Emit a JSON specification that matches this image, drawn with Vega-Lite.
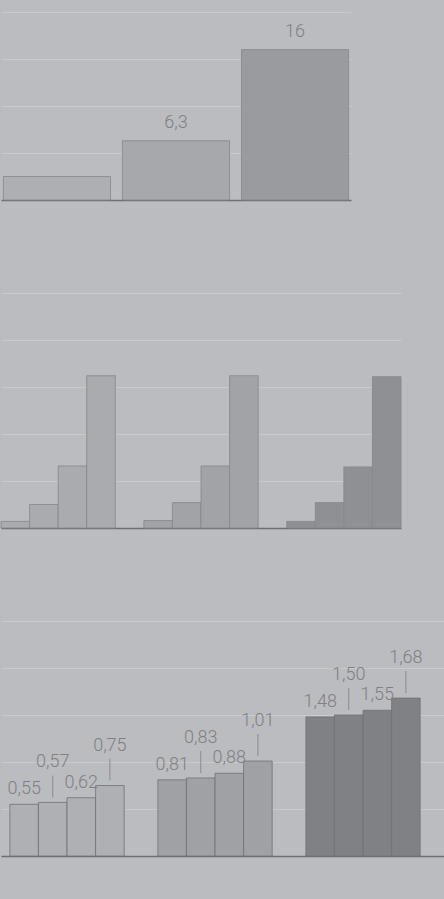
{
  "$schema": "https://vega.github.io/schema/vega-lite/v6.json",
  "background": "#bbbcbf",
  "padding": {"top": 12, "left": 0, "right": 0, "bottom": 45},
  "spacing": 92,
  "resolve": {"scale": {"color": "independent"}},
  "config": {
    "view": {"stroke": null},
    "axisX": {"labels": false, "ticks": false, "grid": false, "domain": true, "domainColor": "#6d6e72", "domainWidth": 1.5, "minExtent": 0, "maxExtent": 0, "title": null},
    "axisY": {"labels": false, "ticks": false, "domain": false, "grid": true, "gridColor": "#d2d3d6", "gridOpacity": 0.6, "gridWidth": 1, "minExtent": 0, "maxExtent": 0, "title": null, "zindex": 1}
  },
  "datasets": {
    "top": [
      {"item": "A", "value": 2.5, "label": ""},
      {"item": "B", "value": 6.3, "label": "6,3"},
      {"item": "C", "value": 16, "label": "16"}
    ],
    "middle": [
      {"group": "G1", "bar": 1, "value": 0.7},
      {"group": "G1", "bar": 2, "value": 2.5},
      {"group": "G1", "bar": 3, "value": 6.6},
      {"group": "G1", "bar": 4, "value": 16.2},
      {"group": "G2", "bar": 1, "value": 0.8},
      {"group": "G2", "bar": 2, "value": 2.7},
      {"group": "G2", "bar": 3, "value": 6.6},
      {"group": "G2", "bar": 4, "value": 16.2},
      {"group": "G3", "bar": 1, "value": 0.7},
      {"group": "G3", "bar": 2, "value": 2.7},
      {"group": "G3", "bar": 3, "value": 6.5},
      {"group": "G3", "bar": 4, "value": 16.1}
    ],
    "bottom": [
      {"group": "G1", "bar": 1, "value": 0.55, "label": "0,55"},
      {"group": "G1", "bar": 2, "value": 0.57, "label": "0,57"},
      {"group": "G1", "bar": 3, "value": 0.62, "label": "0,62"},
      {"group": "G1", "bar": 4, "value": 0.75, "label": "0,75"},
      {"group": "G2", "bar": 1, "value": 0.81, "label": "0,81"},
      {"group": "G2", "bar": 2, "value": 0.83, "label": "0,83"},
      {"group": "G2", "bar": 3, "value": 0.88, "label": "0,88"},
      {"group": "G2", "bar": 4, "value": 1.01, "label": "1,01"},
      {"group": "G3", "bar": 1, "value": 1.48, "label": "1,48"},
      {"group": "G3", "bar": 2, "value": 1.50, "label": "1,50"},
      {"group": "G3", "bar": 3, "value": 1.55, "label": "1,55"},
      {"group": "G3", "bar": 4, "value": 1.68, "label": "1,68"}
    ]
  },
  "vconcat": [
    {
      "width": 350,
      "height": 188,
      "data": {"name": "top"},
      "encoding": {
        "x": {"field": "item", "type": "nominal", "title": null, "scale": {"paddingInner": 0.1, "paddingOuter": 0.02}},
        "y": {"field": "value", "type": "quantitative", "title": null, "scale": {"domain": [0, 20]}, "axis": {"values": [5, 10, 15, 20]}}
      },
      "layer": [
        {
          "mark": {"type": "bar", "stroke": "#86878a", "strokeWidth": 0.8},
          "encoding": {"color": {"field": "item", "type": "nominal", "legend": null, "scale": {"range": ["#aeafb2", "#a7a8ab", "#9a9b9e"]}}}
        },
        {
          "mark": {"type": "text", "baseline": "bottom", "dy": -9, "fontSize": 18, "font": "Roboto", "fontWeight": 300, "color": "#7f8084"},
          "encoding": {"text": {"field": "label", "type": "nominal"}}
        }
      ]
    },
    {
      "width": 400,
      "height": 235,
      "data": {"name": "middle"},
      "encoding": {
        "x": {"field": "group", "type": "nominal", "title": null, "scale": {"paddingInner": 0.2, "paddingOuter": 0}},
        "xOffset": {"field": "bar", "type": "nominal", "scale": {"paddingInner": 0, "paddingOuter": 0}},
        "y": {"field": "value", "type": "quantitative", "title": null, "scale": {"domain": [0, 25]}, "axis": {"values": [5, 10, 15, 20, 25]}}
      },
      "layer": [
        {
          "mark": {"type": "bar", "stroke": "#86878a", "strokeWidth": 0.8},
          "encoding": {"color": {"field": "group", "type": "nominal", "legend": null, "scale": {"range": ["#aaabae", "#a2a3a6", "#8f9093"]}}}
        }
      ]
    },
    {
      "width": 444,
      "height": 235,
      "data": {"name": "bottom"},
      "encoding": {
        "x": {"field": "group", "type": "nominal", "title": null, "scale": {"paddingInner": 0.12, "paddingOuter": 0.06}},
        "xOffset": {"field": "bar", "type": "nominal", "scale": {"paddingInner": 0, "paddingOuter": 0}},
        "y": {"field": "value", "type": "quantitative", "title": null, "scale": {"domain": [0, 2.5]}, "axis": {"values": [0.5, 1, 1.5, 2, 2.5]}}
      },
      "layer": [
        {
          "mark": {"type": "bar", "stroke": "#707175", "strokeWidth": 0.8},
          "encoding": {"color": {"field": "group", "type": "nominal", "legend": null, "scale": {"range": ["#afb0b3", "#a0a1a4", "#808185"]}}}
        },
        {
          "transform": [{"filter": "datum.bar == 1 || datum.bar == 3"}],
          "mark": {"type": "text", "baseline": "bottom", "dy": -6, "fontSize": 18, "font": "Roboto", "fontWeight": 300, "color": "#7f8084"},
          "encoding": {"text": {"field": "label", "type": "nominal"}}
        },
        {
          "transform": [{"filter": "datum.bar == 2 || datum.bar == 4"}],
          "mark": {"type": "text", "baseline": "bottom", "dy": -31, "fontSize": 18, "font": "Roboto", "fontWeight": 300, "color": "#7f8084"},
          "encoding": {"text": {"field": "label", "type": "nominal"}}
        },
        {
          "transform": [{"filter": "datum.bar == 2 || datum.bar == 4"}],
          "mark": {"type": "tick", "orient": "vertical", "size": 22, "thickness": 1, "yOffset": -16, "color": "#8c8d90", "opacity": 1},
          "encoding": {}
        }
      ]
    }
  ]
}
